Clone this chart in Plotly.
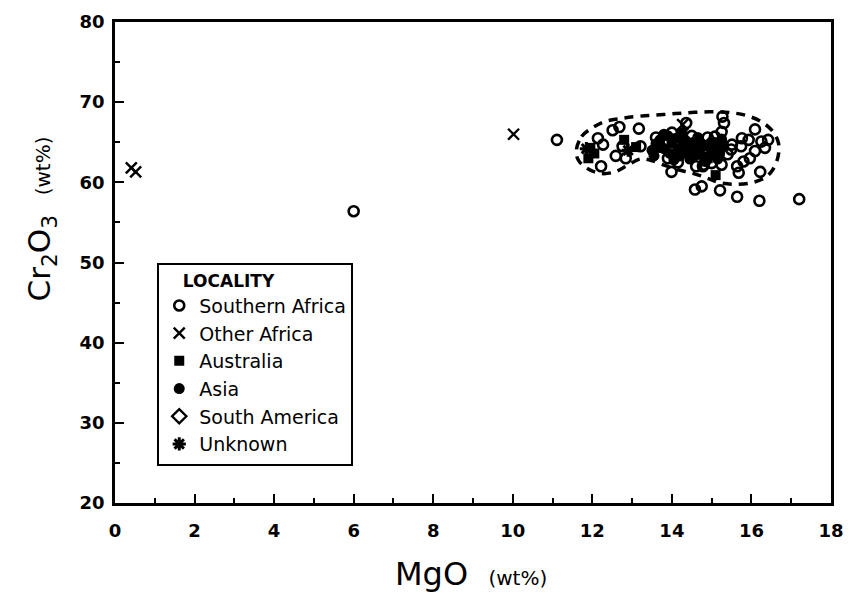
import plotly.graph_objects as go

# ---- data (MgO wt%, Cr2O3 wt%) ----
southern_africa_mgo = [6.0, 11.11, 12.14, 12.27, 12.51, 12.68, 12.22, 12.59, 12.84, 12.76, 13.17, 13.21,
                       13.99, 14.61, 14.78, 14.58, 14.75, 15.21, 15.64, 16.2, 17.2, 15.27, 15.31, 15.25,
                       15.08, 15.51, 15.76, 15.93, 16.09, 16.25, 16.42, 16.34, 16.09, 15.96, 15.80, 15.64,
                       15.68, 16.22, 15.25, 15.49, 15.74, 13.7, 14.0, 14.3, 14.6, 14.9, 15.0, 13.9, 14.5,
                       14.8, 15.4, 13.6, 14.15, 14.36]
southern_africa_cr = [56.4, 65.3, 65.5, 64.7, 66.5, 66.9, 62.0, 63.3, 63.0, 64.5, 66.7, 64.5,
                      61.3, 62.0, 62.0, 59.1, 59.5, 59.0, 58.2, 57.7, 57.9, 68.2, 67.4, 66.3,
                      65.7, 64.7, 65.5, 65.3, 66.6, 65.1, 65.3, 64.3, 63.9, 63.0, 62.6, 62.0,
                      61.2, 61.3, 62.2, 64.1, 64.5, 64.5, 66.2, 65.0, 64.2, 65.6, 62.4, 63.0, 65.8,
                      62.2, 63.5, 65.6, 62.5, 67.4]

other_africa_mgo = [0.41, 0.52, 10.02, 14.27]
other_africa_cr = [61.8, 61.3, 66.0, 67.2]

australia_mgo = [11.95, 12.05, 11.9, 12.8, 13.1, 15.1, 13.6, 14.4, 14.9]
australia_cr = [64.3, 63.6, 63.0, 65.3, 64.4, 60.9, 64.3, 64.0, 63.0]

asia_mgo = [13.6, 13.7, 13.8, 13.9, 13.95, 14.0, 14.1, 14.15, 14.2, 14.3, 14.35, 14.4, 14.5, 14.55,
            14.6, 14.7, 14.75, 14.8, 14.9, 15.0, 15.05, 15.1, 15.2, 15.3, 13.5, 13.55, 14.05, 14.45,
            14.85, 15.15, 13.8, 14.25, 14.65, 15.25]
asia_cr = [64.8, 65.3, 64.2, 65.8, 63.6, 64.9, 65.5, 64.0, 63.3, 64.6, 65.2, 63.8, 64.3, 65.0,
           63.4, 64.1, 64.8, 63.2, 64.5, 63.8, 65.0, 64.3, 63.6, 64.6, 64.0, 63.3, 62.8, 62.9,
           62.6, 62.9, 66.0, 66.2, 65.6, 65.4]

south_america_mgo = [14.2, 15.0]
south_america_cr = [64.0, 64.9]

unknown_mgo = [11.85, 12.9]
unknown_cr = [64.2, 64.0]

# dashed field outline (MgO, Cr2O3)
field_mgo = [11.60, 11.73, 11.98, 12.30, 12.72, 13.21, 13.79, 14.36, 14.94, 15.43, 15.84, 16.25, 16.54,
             16.68, 16.67, 16.54, 16.34, 16.01, 15.60, 15.19, 14.86, 14.53, 14.12, 13.75, 13.46, 13.21,
             12.88, 12.55, 12.19, 11.85, 11.64, 11.60]
field_cr = [64.07, 65.71, 66.74, 67.56, 67.97, 68.26, 68.46, 68.67, 68.79, 68.71, 68.38, 67.56, 66.33,
            64.89, 63.25, 61.61, 60.58, 59.96, 59.75, 59.96, 60.58, 61.12, 61.61, 62.23, 62.76, 62.92,
            62.11, 61.28, 61.12, 61.81, 62.84, 64.07]

FONT = "DejaVu Sans"
fig = go.Figure()

fig.add_trace(go.Scatter(x=field_mgo, y=field_cr, mode="lines",
                         line=dict(color="black", width=3.5, dash="9px,7px", shape="spline", smoothing=1.0),
                         showlegend=False, hoverinfo="skip"))

fig.add_trace(go.Scatter(x=asia_mgo, y=asia_cr, mode="markers", name="Asia",
                         marker=dict(symbol="circle", size=11, color="black")))
fig.add_trace(go.Scatter(x=australia_mgo, y=australia_cr, mode="markers", name="Australia",
                         marker=dict(symbol="square", size=10, color="black")))
fig.add_trace(go.Scatter(x=southern_africa_mgo, y=southern_africa_cr, mode="markers", name="Southern Africa",
                         marker=dict(symbol="circle-open", size=10, color="black", line=dict(width=2.6))))
fig.add_trace(go.Scatter(x=other_africa_mgo, y=other_africa_cr, mode="markers", name="Other Africa",
                         marker=dict(symbol="x-thin-open", size=11, color="black", line=dict(width=2.4))))
fig.add_trace(go.Scatter(x=south_america_mgo, y=south_america_cr, mode="markers", name="South America",
                         marker=dict(symbol="diamond-open", size=11, color="black", line=dict(width=2.4))))
fig.add_trace(go.Scatter(x=unknown_mgo, y=unknown_cr, mode="markers", name="Unknown",
                         marker=dict(symbol="asterisk-open", size=11, color="black", line=dict(width=3))))

fig.update_layout(
    width=855, height=594,
    margin=dict(l=115, r=11, t=16, b=91),
    paper_bgcolor="white", plot_bgcolor="white",
    font=dict(family=FONT, color="black"),
    legend=dict(
        x=0.059, y=0.50, xanchor="left", yanchor="top",
        bordercolor="black", borderwidth=2, bgcolor="white",
        font=dict(size=19, family=FONT),
        traceorder="normal",
        title=dict(text="\u00a0\u00a0\u00a0\u00a0<b>LOCALITY</b>", font=dict(size=17, family=FONT)),
        itemwidth=30, tracegroupgap=0,
    ),
    xaxis=dict(
        range=[0, 18], tickmode="linear", tick0=0, dtick=2,
        ticks="inside", ticklen=9, tickwidth=2, tickcolor="black",
        minor=dict(ticks="inside", ticklen=5, tickwidth=2, dtick=1, tickcolor="black"),
        showline=True, linecolor="black", linewidth=2.5, mirror=True,
        showgrid=False, zeroline=False, ticklabelstandoff=10,
        tickfont=dict(size=18, family=FONT, weight="bold"),
    ),
    yaxis=dict(
        range=[20, 80], tickmode="linear", tick0=20, dtick=10,
        ticks="inside", ticklen=9, tickwidth=2, tickcolor="black",
        minor=dict(ticks="inside", ticklen=5, tickwidth=2, dtick=5, tickcolor="black"),
        showline=True, linecolor="black", linewidth=2.5, mirror=True,
        showgrid=False, zeroline=False, ticklabelstandoff=4,
        tickfont=dict(size=18, family=FONT, weight="bold"),
    ),
    annotations=[
        dict(text="MgO  <span style='font-size:20px'>(wt%)</span>", xref="paper", yref="paper",
             x=0.497, y=-0.148, xanchor="center", yanchor="middle", showarrow=False,
             font=dict(size=32, family=FONT)),
        dict(text="Cr<sub>2</sub>O<sub>3</sub>  <span style='font-size:20px'>(wt%)</span>", xref="paper", yref="paper",
             x=-0.103, y=0.59, xanchor="center", yanchor="middle", showarrow=False, textangle=-90,
             font=dict(size=31, family=FONT)),
    ],
)

order = ["Southern Africa", "Other Africa", "Australia", "Asia", "South America", "Unknown"]
for t in fig.data:
    if t.name in order:
        t.legendrank = order.index(t.name) + 1

fig.write_html("out.html")
